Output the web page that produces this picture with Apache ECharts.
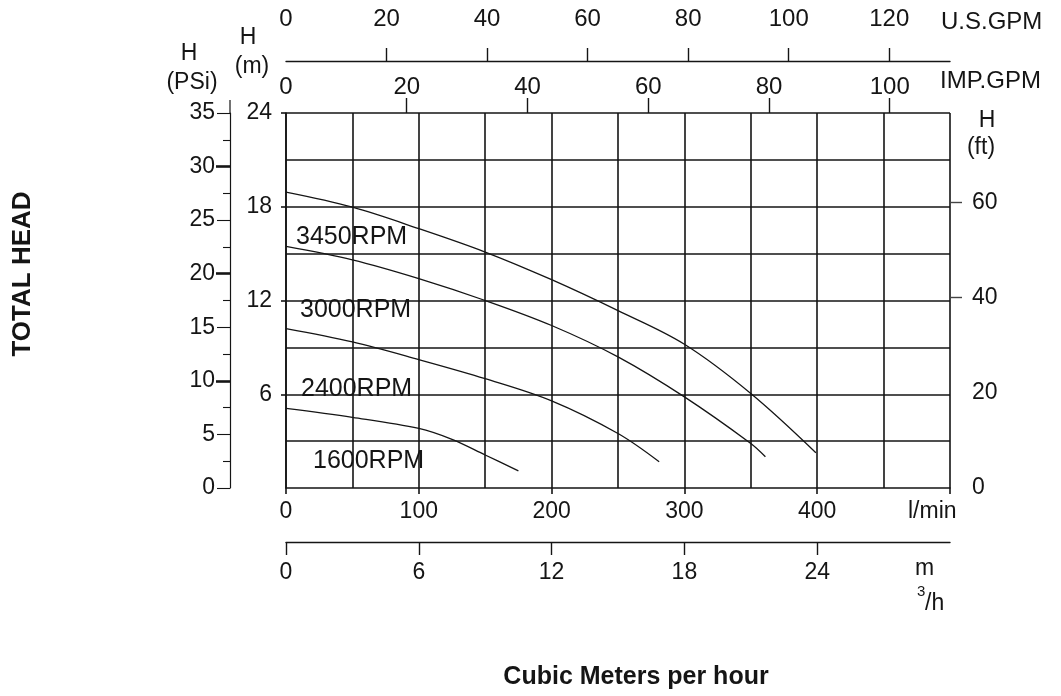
<!DOCTYPE html>
<html><head><meta charset="utf-8">
<script src="https://cdn.jsdelivr.net/npm/echarts@6/dist/echarts.min.js"></script>
<style>html,body{margin:0;padding:0;background:#fff}#c{width:1061px;height:696px}</style>
</head><body><div id="c"></div>
<script>
// Flow in l/min, head in m
const flow3450 = [0, 50, 100, 150, 200, 250, 300, 350, 399];
const head3450 = [18.93, 17.97, 16.6, 15.1, 13.33, 11.35, 9.2, 6.05, 2.26];
const flow3000 = [0, 50, 100, 150, 200, 250, 300, 350, 361];
const head3000 = [15.46, 14.6, 13.4, 12.0, 10.4, 8.39, 5.83, 2.85, 2.0];
const flow2400 = [0, 50, 100, 150, 200, 250, 281];
const head2400 = [10.2, 9.35, 8.22, 7.0, 5.58, 3.49, 1.68];
const flow1600 = [0, 50, 100, 125, 150, 175];
const head1600 = [5.09, 4.52, 3.81, 3.11, 2.11, 1.1];
const seriesNames = ['3450RPM', '3000RPM', '2400RPM', '1600RPM'];

const lminLabels = [0, 100, 200, 300, 400];
const m3hLabels = [0, 6, 12, 18, 24];
const usGpmLabels = [0, 20, 40, 60, 80, 100, 120];
const impGpmLabels = [0, 20, 40, 60, 80, 100];
const mLabels = [6, 12, 18, 24];
const psiLabels = [0, 5, 10, 15, 20, 25, 30, 35];
const ftLabels = [0, 20, 40, 60];

const FONT = '"Liberation Sans", Arial, sans-serif';
const INK = '#151515';
const FLOW_MAX = 500, HEAD_MAX = 24;

const pairs = (f, h) => f.map((v, i) => [v, h[i]]);
const lbl = (size, margin, extra) => Object.assign({ color: INK, fontSize: size, fontFamily: FONT, margin: margin }, extra || {});
const gridLine = { show: true, lineStyle: { color: INK, width: 1.6 } };
const RECT = { left: 286, right: 111, top: 113, bottom: 208 };
const hidden = (gi, extra) => Object.assign({ type: 'value', gridIndex: gi, show: false, min: 0, max: 1 }, extra || {});

const chart = echarts.init(document.getElementById('c'));
const mkLine = (name, f, h) => ({
  name, type: 'line', xAxisIndex: 0, yAxisIndex: 0, data: pairs(f, h),
  smooth: 0.35, symbol: 'none', lineStyle: { color: INK, width: 1.3 }, z: 5
});

const txt = (text, x, y, size, opts) => Object.assign({
  type: 'text', x: x, y: y, z: 10,
  style: Object.assign({ text: text, fill: INK, font: size + 'px ' + FONT, textAlign: 'left', textVerticalAlign: 'middle' }, (opts || {}).style || {})
}, (opts || {}).el || {});

chart.setOption({
  animation: false,
  backgroundColor: '#fff',
  grid: [Object.assign({}, RECT), Object.assign({}, RECT), Object.assign({}, RECT)],
  xAxis: [
    { type: 'value', gridIndex: 0, position: 'bottom', min: 0, max: FLOW_MAX, interval: 100,
      axisLine: { show: true, onZero: false, lineStyle: { color: INK, width: 1.6 } },
      axisTick: { show: true, length: 6, lineStyle: { color: INK, width: 1.6 } },
      axisLabel: lbl(23, 12, { customValues: lminLabels }),
      splitLine: gridLine,
      minorTick: { show: false, splitNumber: 2 },
      minorSplitLine: gridLine },
    { type: 'value', gridIndex: 0, position: 'top', offset: 0, min: 0, max: FLOW_MAX / 4.54609,
      axisLine: { show: false, onZero: false },
      axisTick: { show: true, length: 15, customValues: impGpmLabels.slice(1), lineStyle: { color: INK, width: 1.4 } },
      axisLabel: lbl(24, 14, { customValues: impGpmLabels }),
      splitLine: { show: false } },
    { type: 'value', gridIndex: 1, position: 'bottom', offset: 54, min: 0, max: FLOW_MAX * 0.06,
      axisLine: { show: true, onZero: false, lineStyle: { color: INK, width: 1.4 } },
      axisTick: { show: true, length: 13, customValues: m3hLabels, lineStyle: { color: INK, width: 1.4 } },
      axisLabel: lbl(23, 19, { customValues: m3hLabels }),
      splitLine: { show: false } },
    { type: 'value', gridIndex: 1, position: 'top', offset: 52, min: 0, max: FLOW_MAX / 3.78541,
      axisLine: { show: true, onZero: false, lineStyle: { color: INK, width: 1.4 } },
      axisTick: { show: true, length: 13, customValues: usGpmLabels.slice(1), lineStyle: { color: INK, width: 1.4 } },
      axisLabel: lbl(24, 30, { customValues: usGpmLabels }),
      splitLine: { show: false } },
    hidden(2)
  ],
  yAxis: [
    { type: 'value', gridIndex: 0, position: 'left', min: 0, max: HEAD_MAX, interval: 6,
      axisLine: { show: true, onZero: false, lineStyle: { color: INK, width: 1.6 } },
      axisTick: { show: true, length: 5, customValues: mLabels, lineStyle: { color: INK, width: 1.6 } },
      axisLabel: lbl(23, 14, { customValues: mLabels }),
      splitLine: gridLine,
      minorTick: { show: false, splitNumber: 2 },
      minorSplitLine: gridLine },
    { type: 'value', gridIndex: 0, position: 'right', min: 0, max: HEAD_MAX * 3.28084, interval: 20,
      axisLine: { show: false, onZero: false },
      axisTick: { show: true, length: 12, customValues: [40, 60], lineStyle: { color: '#444', width: 1.4 } },
      axisLabel: lbl(23, 22, { customValues: ftLabels }),
      splitLine: { show: false } },
    { type: 'value', gridIndex: 1, position: 'left', offset: 56, min: 0, max: 35, interval: 5,
      axisLine: { show: true, onZero: false, lineStyle: { color: INK, width: 1.2 } },
      axisTick: { show: true, length: 13, customValues: [0, 5, 15, 25, 35], lineStyle: { color: INK, width: 1.1 } },
      minorTick: { show: true, splitNumber: 2, length: 7, lineStyle: { color: INK, width: 1.1 } },
      axisLabel: lbl(23, 15, { customValues: psiLabels }),
      splitLine: { show: false } },
    { type: 'value', gridIndex: 2, position: 'left', offset: 56, min: 0, max: 35, interval: 5,
      axisLine: { show: false, onZero: false },
      axisTick: { show: true, length: 14, customValues: [10, 20, 30], lineStyle: { color: INK, width: 2.6 } },
      axisLabel: { show: false },
      splitLine: { show: false } }
  ],
  series: [
    mkLine(seriesNames[0], flow3450, head3450),
    mkLine(seriesNames[1], flow3000, head3000),
    mkLine(seriesNames[2], flow2400, head2400),
    mkLine(seriesNames[3], flow1600, head1600)
  ],
  graphic: [
    { type: 'line', z: 5, shape: { x1: 230, y1: 100, x2: 230, y2: 113 }, style: { stroke: INK, lineWidth: 1.2 } },
    txt('H', 189, 54, 23, { style: { textAlign: 'center' } }),
    txt('(PSi)', 192, 83, 23, { style: { textAlign: 'center' } }),
    txt('H', 248, 38, 23, { style: { textAlign: 'center' } }),
    txt('(m)', 252, 67, 23, { style: { textAlign: 'center' } }),
    txt('H', 987, 121, 23, { style: { textAlign: 'center' } }),
    txt('(ft)', 981, 148, 23, { style: { textAlign: 'center' } }),
    txt('U.S.GPM', 941, 22, 24),
    txt('IMP.GPM', 940, 81, 24),
    txt('l/min', 908, 512, 23),
    txt('m', 915, 569, 23),
    txt('3', 917, 592, 15),
    txt('/h', 925, 604, 23),
    txt(seriesNames[0], 296, 237, 25),
    txt(seriesNames[1], 300, 310, 25),
    txt(seriesNames[2], 301, 389, 25),
    txt(seriesNames[3], 313, 461, 25),
    txt('Cubic Meters per hour', 636, 677, 25, { style: { textAlign: 'center', font: 'bold 25px ' + FONT } }),
    { type: 'text', x: 23, y: 274, rotation: Math.PI / 2, z: 10,
      style: { text: 'TOTAL HEAD', fill: INK, font: 'bold 26px ' + FONT, textAlign: 'center', textVerticalAlign: 'middle' } }
  ]
});
</script>
</body></html>
